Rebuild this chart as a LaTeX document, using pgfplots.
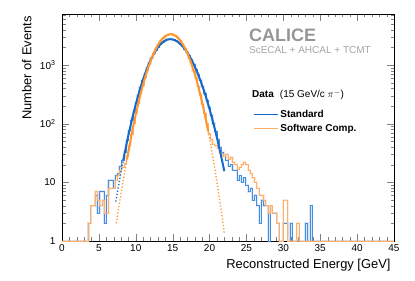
\documentclass[border=0pt]{standalone}
\usepackage{pgfplots}
\usepackage{pgfplotstable}
\pgfplotsset{compat=1.18}
\usepackage{fontspec}
\setmainfont{Liberation Sans}
\definecolor{fitblue}{RGB}{20,105,205}
\definecolor{fitorange}{RGB}{255,150,45}
\definecolor{histblue}{RGB}{70,140,225}
\definecolor{historange}{RGB}{255,175,105}
\definecolor{calgray}{RGB}{150,150,150}
\definecolor{subgray}{RGB}{165,165,165}

\pgfplotstableread{
x y
0 1
3.6 2
3.9 4
4.2 4
4.5 6
4.8 3
5.1 7
5.4 7
5.7 2
6.0 6
6.3 11
6.6 11
6.9 8
7.2 13
7.5 14
7.8 19
8.1 24
8.4 33
8.7 52
9.0 76
9.3 115
9.6 160
9.9 228
10.2 305
10.5 420
10.8 545
11.1 706
11.4 880
11.7 1095
12.0 1310
12.3 1560
12.6 1795
12.9 2040
13.2 2250
13.5 2455
13.8 2595
14.1 2710
14.4 2750
14.7 2740
15.0 2695
15.3 2585
15.6 2455
15.9 2280
16.2 2095
16.5 1870
16.8 1665
17.1 1435
17.4 1235
17.7 1025
18.0 855
18.3 685
18.6 552
18.9 428
19.2 334
19.5 248
19.8 190
20.1 140
20.4 101
20.7 74
21.0 55
21.3 40
21.6 33
21.9 28
22.2 24
22.5 19
22.8 20
23.1 16
23.4 16
23.7 11
24.0 13
24.3 10
24.6 12
24.9 9
25.2 7
25.5 8
25.8 5
26.1 6
26.4 4
26.7 2
27.0 5
27.3 4
27.6 4
27.9 1
28.2 4
28.5 3
28.8 3
29.1 2
29.4 1
30.0 2
30.3 2
30.6 1
30.9 2
31.2 1
33.0 2
33.3 1
33.6 4
33.9 1
45 1
}\histstd

\pgfplotstableread{
x y
0 1
3.6 2
3.9 4
4.2 4
4.5 7
4.8 5
5.1 4
5.4 5
5.7 3
6.0 3
6.3 8
6.6 8
6.9 8
7.2 11
7.5 13
7.8 16
8.1 18
8.4 21
8.7 28
9.0 42
9.3 66
9.6 100
9.9 155
10.2 222
10.5 325
10.8 445
11.1 610
11.4 800
11.7 1040
12.0 1300
12.3 1605
12.6 1915
12.9 2245
13.2 2540
13.5 2835
13.8 3060
14.1 3240
14.4 3330
14.7 3350
15.0 3270
15.3 3110
15.6 2890
15.9 2600
16.2 2295
16.5 1955
16.8 1635
17.1 1320
17.4 1050
17.7 800
18.0 605
18.3 440
18.6 315
18.9 218
19.2 150
19.5 100
19.8 68
20.1 55
20.4 45
20.7 42
21.0 38
21.3 33
21.6 30
21.9 28
22.2 30
22.5 25
22.8 27
23.1 22
23.4 20
23.7 17
24.0 18
24.3 20
24.6 22
24.9 20
25.2 16
25.5 14
25.8 12
26.1 10
26.4 8
26.7 6
27.0 6
27.3 5
27.6 4
27.9 3
28.2 4
28.5 3
28.8 3
29.1 2
29.4 1
30.0 5
30.3 5
30.6 1
31.8 2
32.1 1
45 1
}\histsw

\begin{document}
\begin{tikzpicture}
\useasboundingbox (0,0) rectangle (415bp,281bp);
\begin{axis}[
  at={(62bp,40bp)}, anchor=south west,
  scale only axis, width=332bp, height=227bp,
  ymode=log, xmin=0, xmax=45, ymin=1, ymax=7400,
  xtick={0,5,...,45}, minor x tick num=4,
  ytick={1,10,100,1000},
  yticklabels={1,10,10\textsuperscript{2},10\textsuperscript{3}},
  minor ytick={2,3,4,5,6,7,8,9,20,30,40,50,60,70,80,90,200,300,400,500,600,700,800,900,2000,3000,4000,5000,6000,7000},
  tick align=inside, major tick length=7bp, minor tick length=3.5bp,
  /pgf/number format/assume math mode=true,
  tick label style={font=\fontsize{10bp}{12bp}\selectfont},
  yticklabel style={xshift=-3bp},
  xlabel={Reconstructed Energy [GeV]},
  ylabel={Number of Events},
  label style={font=\fontsize{12.9bp}{15bp}\selectfont},
  xlabel style={at={(axis description cs:1,-0.065)}, anchor=north east},
  ylabel style={at={(axis description cs:-0.081,1.005)}, anchor=south east},
  axis line style={line width=0.6pt},
  legend style={draw=none, fill=none, at={(axis description cs:0.575,0.586)}, anchor=north west, inner sep=0pt, font=\fontsize{10bp}{12bp}\selectfont\bfseries, row sep=1bp},
  legend cell align=left,
  legend image code/.code={\draw[#1] (0bp,0bp) -- (24bp,0bp);},
]
% histograms: error band + line
\addplot[const plot mark left, draw=histblue, line width=2.2pt, opacity=0.2, forget plot] table {\histstd};
\addplot[const plot mark left, draw=histblue, line width=0.6pt, forget plot] table {\histstd};
\addplot[const plot mark left, draw=historange, line width=2.2pt, opacity=0.25, forget plot] table {\histsw};
\addplot[const plot mark left, draw=historange, line width=0.6pt, forget plot] table {\histsw};

% fits: standard
\addplot[fitblue, line width=1.3pt, dotted, smooth, forget plot] coordinates {
(7.3,4.7) (7.5,6.6) (7.8,10.8) (8.0,14.9) (8.3,23.6)};
\addplot[fitblue, line width=2pt, smooth, forget plot] coordinates {
(8.3,23.6) (8.5,31.6) (9,63.5) (9.5,120) (10,214) (10.5,361) (11,571) (11.5,853) (12,1202) (12.5,1596) (13,1995) (13.5,2355) (14,2618) (14.3,2715) (14.65,2754) (15,2723) (15.5,2570) (16,2312) (16.5,1982) (17,1622) (17.5,1264) (18,938) (18.5,664) (19,449) (19.5,288) (20,177) (20.5,103) (21,57.5) (21.5,30.5) (22,15.5)};
% fits: software compensation
\addplot[fitorange, line width=1.3pt, dotted, smooth, forget plot] coordinates {
(7.35,2.0) (7.5,2.6) (8,6.4) (8.5,15.2) (8.8,24.5)};
\addplot[fitorange, line width=2pt, smooth, forget plot] coordinates {
(8.8,24.5) (9,33) (9.5,72) (10,144) (10.5,269) (11,471) (11.5,767) (12,1166) (12.5,1652) (13,2183) (13.5,2692) (14,3097) (14.5,3320) (14.75,3350) (15,3320) (15.5,3083) (16,2655) (16.5,2125) (17,1578) (17.5,1089) (18,698) (18.5,415) (19,229) (19.5,117) (19.8,75.8)};
\addplot[fitorange, line width=1.3pt, dotted, smooth, forget plot] coordinates {
(19.8,75.8) (20,55.8) (20.5,24.7) (21,10.1) (21.5,3.85) (22,1.36)};

\addlegendimage{draw=fitblue, line width=1.3pt}
\addlegendentry{Standard}
\addlegendimage{draw=historange, line width=1.3pt}
\addlegendentry{Software Comp.}

\node[anchor=base west, font=\fontsize{18bp}{20bp}\selectfont\bfseries, text=calgray, inner sep=0pt] at (axis description cs:0.563,0.8767) {CALICE};
\node[anchor=base west, font=\fontsize{10bp}{12bp}\selectfont, text=subgray, inner sep=0pt] at (axis description cs:0.563,0.828) {ScECAL + AHCAL + TCMT};
\node[anchor=base west, font=\fontsize{10bp}{12bp}\selectfont, inner sep=0pt] at (axis description cs:0.5723,0.630) {\textbf{Data}\hspace{6bp}(15 GeV/c $\pi^{-}$)};
\end{axis}
\end{tikzpicture}
\end{document}
